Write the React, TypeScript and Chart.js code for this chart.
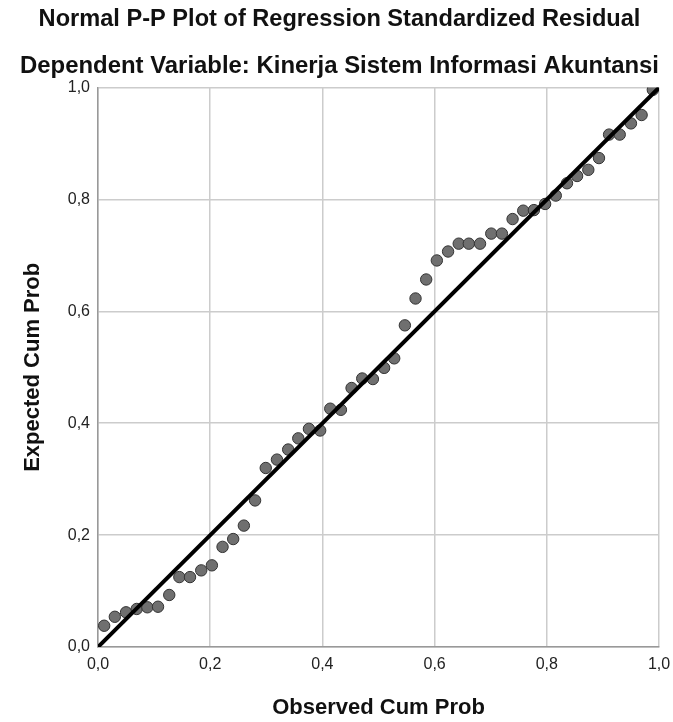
import React, { useEffect, useRef } from "react";
import { Chart, registerables } from "chart.js";

Chart.register(...registerables);

const titleText = "Normal P-P Plot of Regression Standardized Residual";
const subtitleText = "Dependent Variable: Kinerja Sistem Informasi Akuntansi";
const xAxisTitle = "Observed Cum Prob";
const yAxisTitle = "Expected Cum Prob";

const observedCumProb = [
  0.011, 0.030, 0.050, 0.069, 0.088, 0.107, 0.127, 0.145, 0.164, 0.184,
  0.203, 0.222, 0.241, 0.260, 0.280, 0.299, 0.319, 0.339, 0.357, 0.376,
  0.396, 0.414, 0.433, 0.452, 0.471, 0.490, 0.510, 0.528, 0.547, 0.566,
  0.585, 0.604, 0.624, 0.643, 0.661, 0.681, 0.701, 0.720, 0.739, 0.758,
  0.777, 0.797, 0.816, 0.836, 0.854, 0.874, 0.893, 0.911, 0.930, 0.950,
  0.969, 0.989,
];
const expectedCumProb = [
  0.038, 0.054, 0.062, 0.068, 0.071, 0.072, 0.093, 0.125, 0.125, 0.137,
  0.146, 0.179, 0.193, 0.217, 0.262, 0.320, 0.335, 0.353, 0.373, 0.390,
  0.387, 0.426, 0.424, 0.463, 0.480, 0.479, 0.499, 0.516, 0.575, 0.623,
  0.657, 0.691, 0.707, 0.721, 0.721, 0.721, 0.739, 0.739, 0.765, 0.780,
  0.781, 0.792, 0.807, 0.829, 0.842, 0.853, 0.874, 0.916, 0.916, 0.936,
  0.951, 0.996,
];
const referenceLine = [0, 1];
const tickValues = [0, 0.2, 0.4, 0.6, 0.8, 1.0];

const fmt = (v: number) => Number(v).toFixed(1).replace(".", ",");

export default function App() {
  const canvasRef = useRef<HTMLCanvasElement | null>(null);

  useEffect(() => {
    document.body.style.margin = "0";
    const canvas = canvasRef.current;
    if (!canvas) return;
    const font = "'Liberation Sans', Arial, sans-serif";
    const chart = new Chart(canvas, {
      type: "scatter",
      data: {
        datasets: [
          {
            type: "line",
            label: "Reference",
            data: referenceLine.map((v) => ({ x: v, y: v })),
            borderColor: "#000000",
            borderWidth: 4,
            pointRadius: 0,
            fill: false,
            order: 0,
          },
          {
            type: "scatter",
            label: "Residual",
            data: observedCumProb.map((x, i) => ({ x, y: expectedCumProb[i] })),
            backgroundColor: "#6f6f6f",
            borderColor: "#333333",
            borderWidth: 1,
            pointRadius: 5.7,
            order: 1,
          },
        ],
      },
      options: {
        animation: false,
        responsive: false,
        maintainAspectRatio: false,
        layout: { padding: { left: 20, right: 14, top: 0, bottom: 0 } },
        plugins: {
          legend: { display: false },
          tooltip: { enabled: false },
          title: {
            display: true,
            text: titleText,
            color: "#111111",
            font: { family: font, size: 23.6, weight: "bold" },
            padding: { top: 5.7, bottom: 18 },
          },
          subtitle: {
            display: true,
            text: subtitleText,
            color: "#111111",
            font: { family: font, size: 24.4, weight: "bold" },
            padding: { top: 0, bottom: 6.3 },
          },
        },
        scales: {
          x: {
            type: "linear",
            min: 0,
            max: 1,
            afterBuildTicks: (scale: any) => {
              scale.ticks = tickValues.map((v) => ({ value: v }));
            },
            afterFit: (scale: any) => {
              scale.height = 75;
              scale.paddingLeft = 0;
              scale.paddingRight = 0;
            },
            ticks: {
              callback: (v: any) => fmt(v),
              color: "#222222",
              font: { family: font, size: 16 },
              padding: 8.4,
            },
            grid: { color: "#cccccc", lineWidth: 1.5, drawTicks: false },
            border: { color: "#999999", width: 1.5 },
            title: {
              display: true,
              text: xAxisTitle,
              color: "#111111",
              font: { family: font, size: 22, weight: "bold" },
              padding: { top: 20, bottom: 1 },
            },
          },
          y: {
            type: "linear",
            min: 0,
            max: 1,
            afterBuildTicks: (scale: any) => {
              scale.ticks = tickValues.map((v) => ({ value: v }));
            },
            afterFit: (scale: any) => {
              scale.width = 78;
              scale.paddingTop = 0;
              scale.paddingBottom = 0;
            },
            ticks: {
              callback: (v: any) => fmt(v),
              color: "#222222",
              font: { family: font, size: 16 },
              padding: 8,
            },
            grid: { color: "#cccccc", lineWidth: 1.5, drawTicks: false },
            border: { color: "#999999", width: 1.5 },
            title: {
              display: true,
              text: yAxisTitle,
              color: "#111111",
              font: { family: font, size: 22, weight: "bold" },
              padding: { top: 0, bottom: 20 },
            },
          },
        },
      },
    } as any);
    return () => chart.destroy();
  }, []);

  return (
    <div style={{ position: "absolute", left: 0, top: 0, width: 673, height: 722, background: "#ffffff" }}>
      <canvas ref={canvasRef} width={673} height={722} style={{ width: 673, height: 722, display: "block" }} />
    </div>
  );
}
